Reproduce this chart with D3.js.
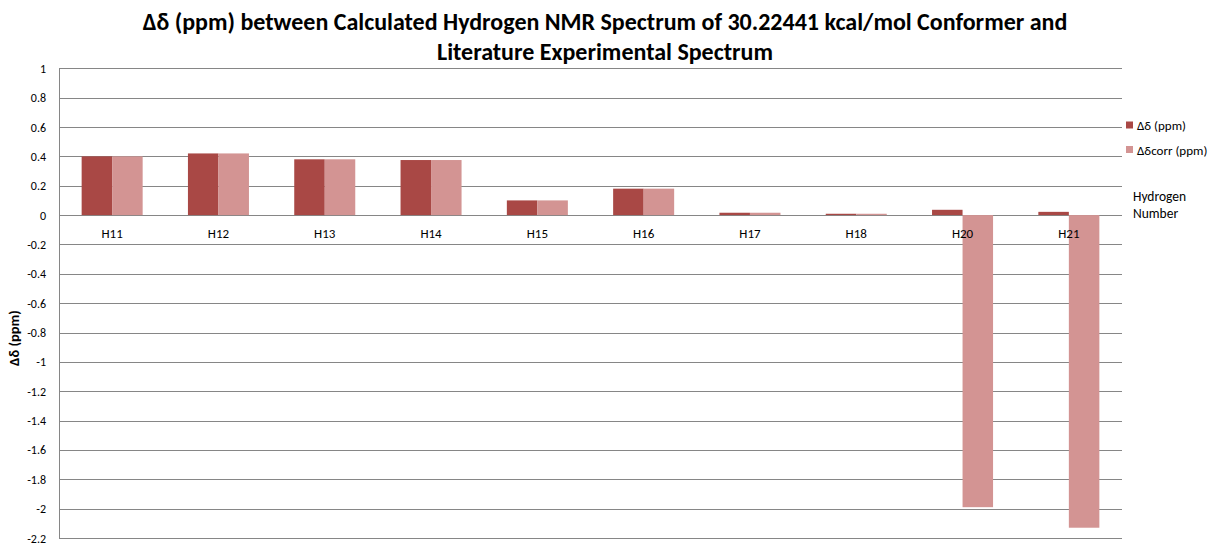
<!DOCTYPE html>
<html><head><meta charset="utf-8">
<script src="https://cdn.jsdelivr.net/npm/d3@7"></script>
<style>body{margin:0;background:#fff;} svg{display:block;}</style>
</head><body>
<script>
const categories = ["H11","H12","H13","H14","H15","H16","H17","H18","H20","H21"];
const deltaValues = [0.40, 0.42, 0.38, 0.375, 0.10, 0.18, 0.016, 0.009, 0.036, 0.022];
const deltaCorrValues = [0.40, 0.42, 0.38, 0.375, 0.10, 0.18, 0.016, 0.009, -1.99, -2.13];
const seriesNames = ["Δδ (ppm)", "Δδcorr (ppm)"];
const yTicks = [1,0.8,0.6,0.4,0.2,0,-0.2,-0.4,-0.6,-0.8,-1,-1.2,-1.4,-1.6,-1.8,-2,-2.2];
const colors = ["#A94845", "#D39493"];

const W = 1211, H = 550;
const svg = d3.select("body").append("svg").attr("width", W).attr("height", H);
const plotLeft = 59, plotRight = 1122, plotTop = 68.3, plotBottom = 538;
const font = "Calibri, Carlito, 'Liberation Sans', Arial, sans-serif";

const y = d3.scaleLinear().domain([-2.2, 1]).range([plotBottom, plotTop]);
const x = d3.scaleBand().domain(categories).range([plotLeft, plotRight]).padding(0);
const bw = x.bandwidth() * 0.287;

// gridlines
svg.append("g").selectAll("line").data(yTicks).join("line")
  .attr("x1", plotLeft).attr("x2", plotRight)
  .attr("y1", d => Math.round(y(d)) + 0.5).attr("y2", d => Math.round(y(d)) + 0.5)
  .attr("stroke", "#868686").attr("stroke-width", 1);
svg.append("line").attr("x1", plotLeft + 0.5).attr("x2", plotLeft + 0.5)
  .attr("y1", plotTop).attr("y2", plotBottom).attr("stroke", "#868686");

// y labels
svg.append("g").selectAll("text").data(yTicks).join("text")
  .attr("x", 46).attr("y", d => y(d) + 4.5)
  .attr("text-anchor", "end").attr("font-family", font).attr("font-size", 12)
  .attr("fill", "#000").text(d => d);

// bars
const series = [deltaValues, deltaCorrValues];
series.forEach((vals, si) => {
  svg.append("g").selectAll("rect").data(vals).join("rect")
    .attr("x", (d, i) => x(categories[i]) + x.bandwidth() / 2 - bw + si * bw)
    .attr("width", bw)
    .attr("y", d => y(Math.max(0, d)))
    .attr("height", d => Math.abs(y(d) - y(0)))
    .attr("fill", colors[si]);
});

// x labels
svg.append("g").selectAll("text").data(categories).join("text")
  .attr("x", d => x(d) + x.bandwidth() / 2).attr("y", 238)
  .attr("text-anchor", "middle").attr("font-family", font).attr("font-size", 13)
  .attr("fill", "#000").text(d => d);

// title
const title = svg.append("text").attr("x", 605).attr("text-anchor", "middle")
  .attr("font-family", font).attr("font-weight", "bold").attr("font-size", 24).attr("fill", "#000");
title.append("tspan").attr("x", 605).attr("y", 30).text("Δδ (ppm) between Calculated Hydrogen NMR Spectrum of 30.22441 kcal/mol Conformer and");
title.append("tspan").attr("x", 605).attr("y", 60).text("Literature Experimental Spectrum");

// y axis title
svg.append("text").attr("transform", "translate(19,338) rotate(-90)")
  .attr("text-anchor", "middle").attr("font-family", font).attr("font-weight", "bold")
  .attr("font-size", 14.5).attr("fill", "#000").text("Δδ (ppm)");

// legend
const lg = svg.append("g");
seriesNames.forEach((n, i) => {
  lg.append("rect").attr("x", 1126).attr("y", 121.5 + i * 24.5).attr("width", 7).attr("height", 7).attr("fill", colors[i]);
  lg.append("text").attr("x", 1137).attr("y", 130 + i * 24.5).attr("font-family", font)
    .attr("font-size", 13).attr("fill", "#000").text(n);
});

// x axis title
svg.append("text").attr("font-family", font).attr("font-size", 13.5).attr("fill", "#000")
  .selectAll("tspan").data(["Hydrogen", "Number"]).join("tspan")
  .attr("x", 1133).attr("y", (d, i) => 201 + i * 17).text(d => d);
</script>
</body></html>
